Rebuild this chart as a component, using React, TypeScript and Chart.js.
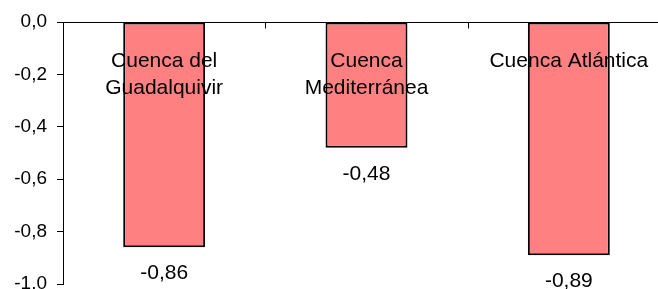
import React, { useEffect, useRef } from "react";
import { Chart, registerables } from "chart.js";

Chart.register(...registerables);

const categories: string[][] = [
  ["Cuenca del", "Guadalquivir"],
  ["Cuenca", "Mediterránea"],
  ["Cuenca Atlántica"],
];
const values: number[] = [-0.86, -0.48, -0.89];
const yMin = -1.0;
const yMax = 0.0;
const yStep = 0.2;

const FONT = "'Liberation Sans', Arial, sans-serif";

const fmt = (v: number, d: number) => {
  const s = v.toFixed(d);
  const n = Number(s) === 0 ? (0).toFixed(d) : s;
  return n.replace(".", ",");
};

const overlayPlugin = {
  id: "overlay",
  afterDatasetsDraw(chart: any) {
    const { ctx, chartArea } = chart;
    const xs = chart.scales.x;
    const ys = chart.scales.y;
    ctx.save();
    const y0 = Math.round(ys.getPixelForValue(0)) + 0.5;
    ctx.strokeStyle = "#000";
    ctx.lineWidth = 1;
    ctx.beginPath();
    ctx.moveTo(chartArea.left, y0);
    ctx.lineTo(chartArea.right, y0);
    ctx.stroke();
    for (let i = 1; i < categories.length; i++) {
      const x = Math.round((xs.getPixelForValue(i - 1) + xs.getPixelForValue(i)) / 2) + 0.5;
      ctx.beginPath();
      ctx.moveTo(x, y0);
      ctx.lineTo(x, y0 + 6);
      ctx.stroke();
    }
    ctx.fillStyle = "#000";
    ctx.font = `21px ${FONT}`;
    ctx.textAlign = "center";
    ctx.textBaseline = "middle";
    categories.forEach((lines, i) => {
      const x = xs.getPixelForValue(i);
      lines.forEach((t, j) => {
        ctx.fillText(t, x, chartArea.top + 39 + j * 27);
      });
    });
    const meta = chart.getDatasetMeta(0);
    meta.data.forEach((bar: any, i: number) => {
      ctx.fillText(fmt(values[i], 2), bar.x, bar.y + 26);
    });
    ctx.restore();
  },
};

export default function App() {
  const ref = useRef<HTMLCanvasElement | null>(null);
  useEffect(() => {
    if (!ref.current) return;
    const chart = new Chart(ref.current, {
      type: "bar",
      data: {
        labels: categories.map((c) => c.join(" ")),
        datasets: [
          {
            data: values,
            backgroundColor: "#FF8080",
            borderColor: "#000",
            borderWidth: 2,
            borderSkipped: false,
            barPercentage: 0.405,
            categoryPercentage: 1,
          },
        ],
      },
      options: {
        responsive: false,
        animation: false,
        layout: { padding: { top: 22, right: 0, bottom: 5, left: 0 } },
        plugins: {
          legend: { display: false },
          tooltip: { enabled: false },
          title: { display: false },
        },
        scales: {
          x: {
            display: false,
            offset: true,
          },
          y: {
            min: yMin,
            max: yMax,
            border: { display: true, color: "#000", width: 1 },
            grid: {
              drawOnChartArea: false,
              drawTicks: true,
              tickLength: 6,
              tickColor: "#000",
            },
            ticks: {
              stepSize: yStep,
              padding: 10,
              color: "#000",
              font: { family: FONT, size: 19 },
              callback: (v: any) => fmt(Number(v), 1),
            },
            afterFit: (scale: any) => {
              scale.width = 63;
              scale.paddingTop = 0;
              scale.paddingBottom = 0;
            },
          },
        },
      },
      plugins: [overlayPlugin],
    });
    return () => chart.destroy();
  }, []);
  return (
    <div
      style={{
        position: "absolute",
        left: 0,
        top: 0,
        width: 658,
        height: 289,
        overflow: "hidden",
        background: "#fff",
      }}
    >
      <canvas ref={ref} width={670} height={289} style={{ display: "block" }} />
    </div>
  );
}
